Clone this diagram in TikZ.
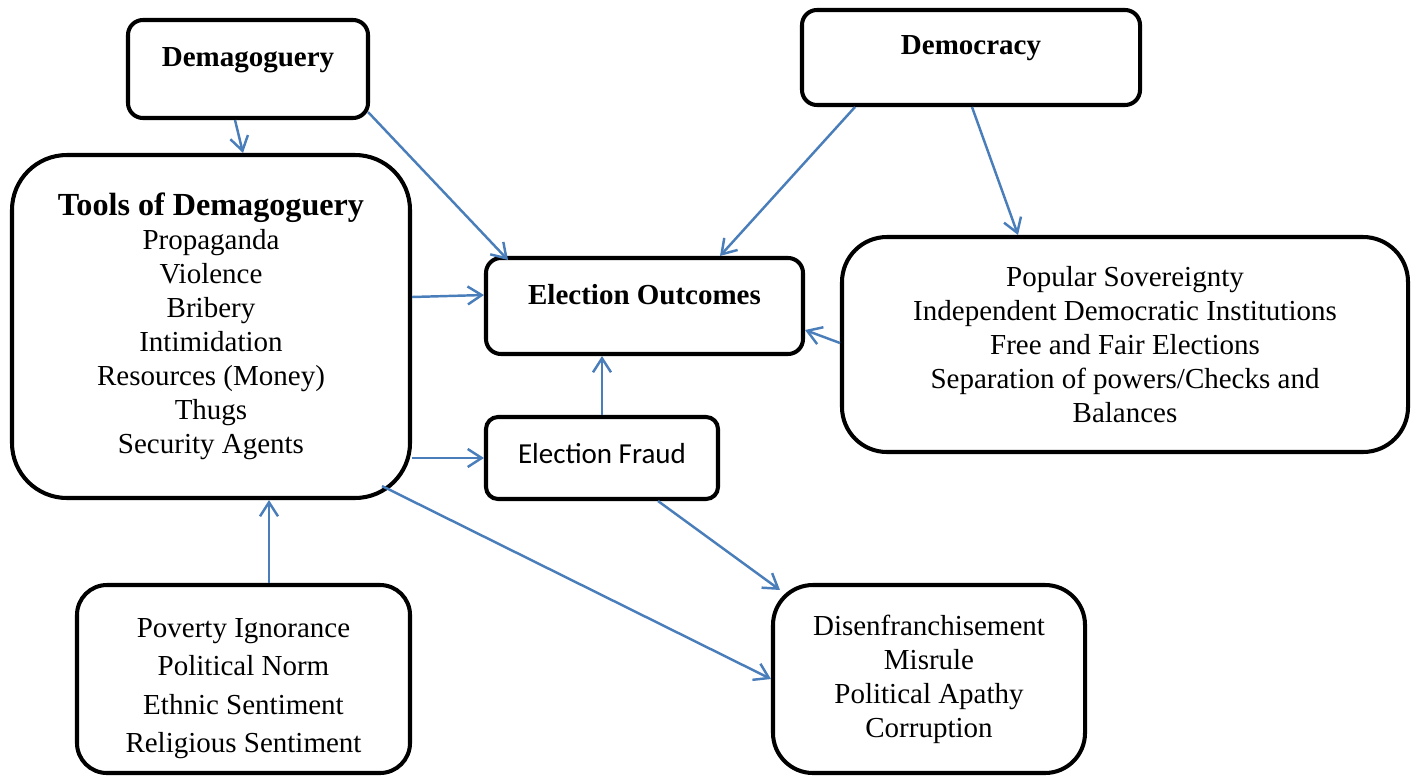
\documentclass[tikz,border=0pt]{standalone}
\usepackage{fontspec}
\setmainfont{Liberation Serif}
\newfontfamily\calfont{Carlito}
\usepackage{tikz}
\usetikzlibrary{arrows.meta}
\definecolor{linkblue}{HTML}{4A7EBB}

\begin{document}
\begin{tikzpicture}[x=0.2mm,y=-0.2mm,>={Straight Barb[length=2.8mm,width=3.6mm]},
  box/.style={draw,line width=2.3pt,align=center,inner sep=0pt,
    font=\fontsize{16.5}{19.35}\selectfont},
  link/.style={->,linkblue,line width=1.4pt}]

\useasboundingbox (0,0) rectangle (1411,776);


\node[box,rounded corners=3mm,minimum width=48mm,minimum height=19.6mm,
  text height=4mm,text depth=5.2mm] (demag) at (248,69) {\textbf{Demagoguery}};
\node[box,rounded corners=3mm,minimum width=67.6mm,minimum height=19mm,
  text height=4mm,text depth=5.2mm] (democ) at (971,57.5) {\textbf{Democracy}};
\node[box,rounded corners=11mm,minimum width=79.6mm,minimum height=68.6mm] (tools) at (211,326.5)
  {{\fontsize{18.3}{19.35}\selectfont\textbf{Tools of Demagoguery}}\\Propaganda\\Violence\\Bribery\\Intimidation\\Resources (Money)\\Thugs\\Security Agents};
\node[box,rounded corners=3mm,minimum width=63.4mm,minimum height=19.2mm,
  text height=4mm,text depth=4.6mm] (outcome) at (644.5,306) {\textbf{Election Outcomes}};
\node[box,rounded corners=2.4mm,minimum width=46.4mm,minimum height=16.4mm,
  text height=3.5mm,text depth=1.2mm,font=\calfont\fontsize{16.5}{19.35}\selectfont] (fraud) at (602,458) {Election Fraud};
\node[box,rounded corners=9mm,minimum width=113.2mm,minimum height=43mm] (pillars) at (1125,344.5)
  {Popular Sovereignty\\Independent Democratic Institutions\\Free and Fair Elections\\Separation of powers/Checks and\\Balances};
\node[box,rounded corners=6mm,minimum width=66.6mm,minimum height=37.6mm,
  font=\fontsize{16.5}{21.9}\selectfont] (causes) at (243.5,679)
  {\rule{0pt}{7.6mm}Poverty Ignorance\\Political Norm\\Ethnic Sentiment\\Religious Sentiment};
\node[box,rounded corners=8mm,minimum width=62.4mm,minimum height=37.6mm] (effects) at (929,679)
  {Disenfranchisement\\Misrule\\Political Apathy\\Corruption};


\draw[link] ([xshift=-2.6mm]demag.south) -- ([xshift=6.4mm]tools.north);
\draw[link] ([xshift=-0.4mm,yshift=1.6mm]demag.south east) -- ([xshift=4.8mm,yshift=-0.8mm]outcome.north west);


\draw[link] ([xshift=-23.2mm]democ.south) -- ([xshift=15.1mm]outcome.north);
\draw[link] ([xshift=0.2mm]democ.south) -- ([xshift=-21.4mm]pillars.north);


\draw[link] ([yshift=5.9mm]tools.east) -- ([yshift=2.2mm]outcome.west);
\draw[link] ([yshift=0.3mm]pillars.west) -- ([yshift=-4.8mm]outcome.east);
\draw[link] (fraud.north) -- (fraud.north |- outcome.south);


\draw[link] (tools.east |- fraud.west) -- (fraud.west);
\draw[link] ([xshift=5.1mm]causes.north) -- ([xshift=5.1mm]causes.north |- tools.south);


\draw[link] ([xshift=11.2mm]fraud.south) -- ([xshift=1.8mm,yshift=-1.4mm]effects.north west);
\draw[link] ([xshift=-6mm,yshift=2.8mm]tools.south east) -- (effects.west);

\end{tikzpicture}
\end{document}
